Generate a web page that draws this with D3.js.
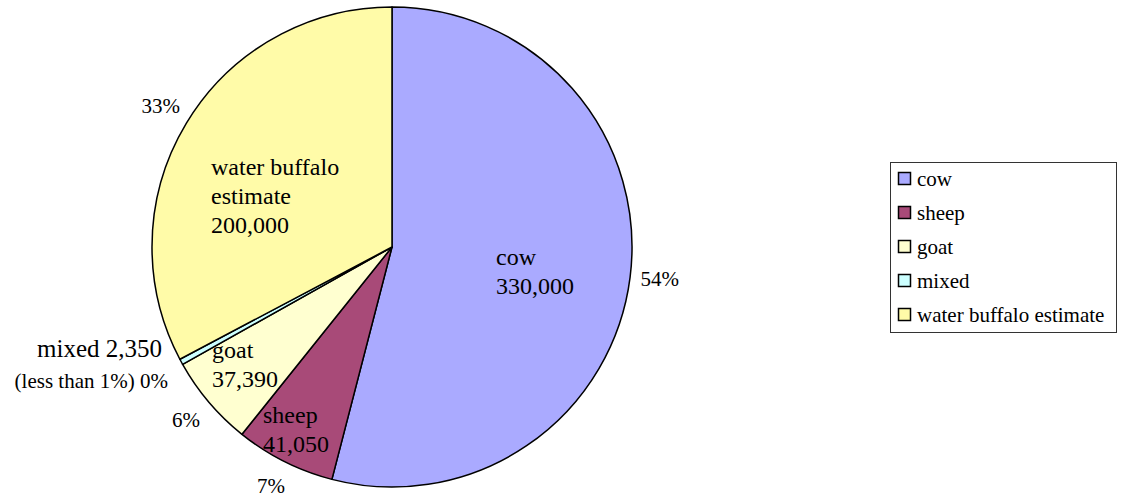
<!DOCTYPE html>
<html><head><meta charset="utf-8">
<script src="https://cdn.jsdelivr.net/npm/d3@7/dist/d3.min.js"></script></head>
<body style="margin:0">
<svg id="livestock" width="1122" height="500"></svg>
<script>
// Livestock head counts by type
const categories = ["cow", "sheep", "goat", "mixed", "water buffalo estimate"];
const values = [330000, 41050, 37390, 2350, 200000];
const colors = ["#AAAAFF", "#A84A78", "#FFFFD0", "#CCFFFF", "#FFFBA8"];
// In-slice label lines
const sliceLabels = [
  ["cow", "330,000"],
  ["sheep", "41,050"],
  ["goat", "37,390"],
  [],
  ["water buffalo", "estimate", "200,000"]
];

const FONT = '"Liberation Serif"';
const svg = d3.select("#livestock");
const cx = 392, cy = 247, radius = 240;
const total = d3.sum(values);
const fmtPct = v => Math.round(v / total * 100) + "%";

const data = categories.map((c, i) => ({ name: c, value: values[i], color: colors[i], lines: sliceLabels[i] }));

const pie = d3.pie().sort(null).value(d => d.value).startAngle(0).endAngle(2 * Math.PI);
const arcs = pie(data);
const arc = d3.arc().innerRadius(0).outerRadius(radius);

// Slices
svg.selectAll("path.slice")
  .data(arcs)
  .join("path")
  .attr("class", "slice")
  .attr("transform", `translate(${cx},${cy})`)
  .attr("d", arc)
  .attr("fill", d => d.data.color)
  .attr("stroke", "#000")
  .attr("stroke-width", 1.5)
  .attr("stroke-linejoin", "round");

function label(x, y, txt, size, anchor) {
  return svg.append("text")
    .attr("x", x).attr("y", y)
    .attr("text-anchor", anchor || "start")
    .style("font-family", FONT)
    .style("font-size", size + "px")
    .text(txt);
}

// Percentage labels just outside the rim
const outerArc = d3.arc().innerRadius(270).outerRadius(270);
arcs.filter(d => d.data.name !== "mixed").forEach(d => {
  const [px, py] = outerArc.centroid(d);
  label(cx + px, cy + py + 5, fmtPct(d.data.value), 21, "middle");
});

// Text blocks inside the slices (left edge, first baseline relative to centre)
const blockOffset = {
  "cow": [104, 18],
  "sheep": [-129, 176],
  "goat": [-180, 111],
  "water buffalo estimate": [-181, -72]
};
const lineGap = 29;
arcs.filter(d => d.data.lines.length).forEach(d => {
  const [ox, oy] = blockOffset[d.data.name];
  d.data.lines.forEach((ln, i) => label(cx + ox, cy + oy + i * lineGap, ln, 24));
});

// Label for the tiny "mixed" slice, set to the left of the pie
const mixedArc = arcs.find(d => d.data.name === "mixed");
label(cx - 230, cy + 110, "mixed " + d3.format(",")(mixedArc.data.value), 25, "end");
label(cx - 224, cy + 141, "(less than 1%) " + fmtPct(mixedArc.data.value), 21, "end");

// Legend
const lx = 890, ly = 162;
svg.append("rect")
  .attr("x", lx + 0.5).attr("y", ly + 0.5)
  .attr("width", 226).attr("height", 170)
  .attr("fill", "#fff")
  .attr("stroke", "#333")
  .attr("stroke-width", 1);
data.forEach((d, i) => {
  const by = ly + 24 + i * 34;
  svg.append("rect")
    .attr("x", lx + 8.5).attr("y", by - 13.5)
    .attr("width", 12).attr("height", 12)
    .attr("fill", d.color)
    .attr("stroke", "#000")
    .attr("stroke-width", 1.5);
  label(lx + 27, by, d.name, 21);
});
</script></body></html>
